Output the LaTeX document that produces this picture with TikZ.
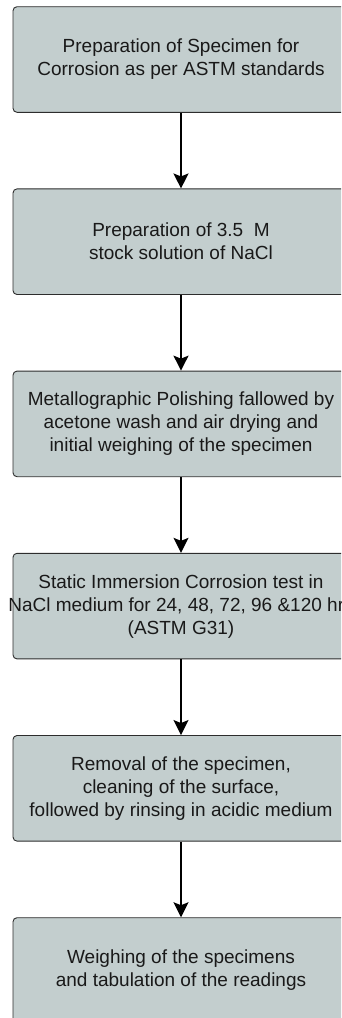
\documentclass[tikz,border=0pt]{standalone}
\usepackage{fontspec}
\setmainfont{Liberation Sans}
\usetikzlibrary{arrows.meta}
\definecolor{boxfill}{RGB}{195,206,206}
\definecolor{boxline}{RGB}{45,45,45}
\definecolor{ink}{RGB}{25,25,25}
\begin{document}
\begin{tikzpicture}[x=1pt,y=-1pt,
  stepbox/.style={draw=boxline, fill=boxfill, line width=0.9pt,
    rounded corners=4pt, minimum width=336pt, minimum height=105.6pt,
    inner sep=0pt, align=center, text=ink,
    font=\fontsize{19}{23}\selectfont},
  flow/.style={draw=black, line width=1.7pt,
    -{Stealth[length=15pt,width=15pt,inset=3pt]}}]
  \useasboundingbox (0,0) rectangle (341,1018);
  \clip (0,0) rectangle (341,1018);

  \node[stepbox] (b1) at (181,59.5)
    {Preparation of Specimen for\\Corrosion as per ASTM standards};
  \node[stepbox] (b2) at (181,241.7)
    {Preparation of 3.5~~M\\stock solution of NaCl};
  \node[stepbox] (b3) at (181,423.9)
    {Metallographic Polishing fallowed by\\acetone wash and air drying and\\initial weighing of the specimen};
  \node[stepbox] (b4) at (181,606.1)
    {Static Immersion Corrosion test in\\\makebox[0pt]{NaCl medium for 24, 48, 72, 96 \&120 hrs}\\(ASTM G31)};
  \node[stepbox] (b5) at (181,788.3)
    {Removal of the specimen,\\cleaning of the surface,\\followed by rinsing in acidic medium};
  \node[stepbox] (b6) at (181,970.5)
    {Weighing of the specimens\\and tabulation of the readings};

  \draw[flow] (b1) -- (b2);
  \draw[flow] (b2) -- (b3);
  \draw[flow] (b3) -- (b4);
  \draw[flow] (b4) -- (b5);
  \draw[flow] (b5) -- (b6);
\end{tikzpicture}
\end{document}
